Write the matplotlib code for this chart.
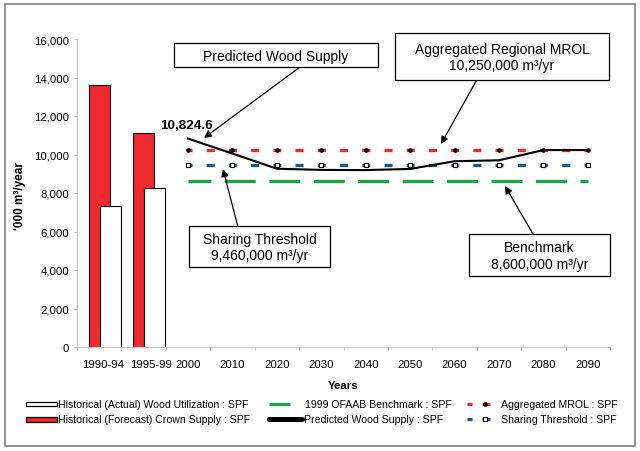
import matplotlib
matplotlib.use("Agg")
import matplotlib.pyplot as plt
from matplotlib.patches import Rectangle
from matplotlib.lines import Line2D
import numpy as np

plt.rcParams['font.family'] = ['Liberation Sans', 'DejaVu Sans']
plt.rcParams['lines.scale_dashes'] = False

# ---------------- data ----------------
categories = ['1990-94', '1995-99', '2000', '2010', '2020', '2030', '2040',
              '2050', '2060', '2070', '2080', '2090']
hist_years = ['1990-94', '1995-99']
crown_supply = [13630, 11120]          # Historical (Forecast) Crown Supply
actual_util = [7340, 8280]             # Historical (Actual) Wood Utilization
proj_years = ['2000', '2010', '2020', '2030', '2040', '2050', '2060',
              '2070', '2080', '2090']
predicted = [10824.6, 10050, 9260, 9200, 9190, 9250, 9650, 9700, 10230, 10230]
mrol = [10250] * 10
sharing = [9460] * 10
benchmark = [8600] * 10
yticks = [0, 2000, 4000, 6000, 8000, 10000, 12000, 14000, 16000]

W, H = 640, 452
fig = plt.figure(figsize=(W / 100, H / 100), dpi=100)


def fx(x):
    return x / W


def fy(y):
    return 1 - y / H


ax = fig.add_axes([fx(77), fy(348), fx(610) - fx(77), fy(40) - fy(348)])

idx = {c: i for i, c in enumerate(categories)}
xh = np.array([idx[c] for c in hist_years], dtype=float)
xp = np.array([idx[c] for c in proj_years], dtype=float)

red = '#ee2a2e'
blue = '#1f5b8a'
green = '#1fa34a'

bw = 0.47
ax.bar(xh, crown_supply, width=bw, color=red, edgecolor='black', linewidth=0.8, zorder=2)
ax.bar(xh + 0.245, actual_util, width=bw, color='white', edgecolor='black', linewidth=0.8, zorder=3)

ax.plot(xp, benchmark, color=green, lw=2.4, linestyle=(5.8, (22.3, 9.7)),
        solid_capstyle='butt', dash_capstyle='butt', zorder=3)
ax.plot(xp, sharing, color=blue, lw=2.4, linestyle=(2.9, (5.8, 10.2)),
        dash_capstyle='butt', marker='s', markersize=2.5, mfc='white', mec='black',
        mew=0.8, zorder=4)
ax.plot(xp, mrol, color=red, lw=2.4, linestyle=(2.9, (5.8, 10.2)),
        dash_capstyle='butt', marker='o', markersize=2.6, mfc='black', mec='black',
        mew=0.6, zorder=4)
ax.plot(xp, predicted, color='black', lw=1.5, zorder=5)

ax.set_xlim(-0.5, len(categories) - 0.5)
ax.set_ylim(0, 16000)
ax.set_yticks(yticks)
ax.set_yticklabels([f'{v:,}' for v in yticks])

tickpos = list(range(len(categories)))
tickpos[0] += 0.09
tickpos[1] += 0.16
ax.set_xticks(tickpos)
ax.set_xticklabels(categories)
ax.set_xticks(np.arange(-0.5, len(categories), 1.0), minor=True)
ax.tick_params(axis='x', which='major', length=0, pad=9, labelsize=8.2)
ax.tick_params(axis='x', which='minor', length=2.5, color='#c0c0c0', direction='out')
ax.tick_params(axis='y', which='major', length=2.2, color='#c0c0c0', pad=3.6, labelsize=8.2)

for s in ['top', 'right']:
    ax.spines[s].set_visible(False)
for s in ['left', 'bottom']:
    ax.spines[s].set_color('#c8c8c8')
    ax.spines[s].set_linewidth(0.9)

# data label
ax.annotate(f'{predicted[0]:,.1f}', xy=(xp[0], predicted[0]), xytext=(-1, 10),
            textcoords='offset points', ha='center', va='center',
            fontsize=9.7, fontweight='bold')

# axis titles
fig.text(fx(20), fy(196), "'000 m³/year", rotation=90, ha='center', va='center',
         fontsize=8.5, fontweight='bold')
fig.text(fx(343), fy(385.7), 'Years', ha='center', va='center',
         fontsize=8.2, fontweight='bold')

# callout boxes
boxes = [
    ((174, 44, 378, 68), 'Predicted Wood Supply', (300, 68), (204, 139)),
    ((395, 34, 609, 81), 'Aggregated Regional MROL\n10,250,000 m³/yr', (476.7, 81), (441, 145)),
    ((189, 227, 330, 268), 'Sharing Threshold\n9,460,000 m³/yr', (237.7, 227), (223, 170)),
    ((469, 235, 610, 277), 'Benchmark\n8,600,000 m³/yr', (533, 235), (505, 187)),
]
for (x0, y0, x1, y1), txt, start, tip in boxes:
    fig.add_artist(Rectangle((fx(x0), fy(y1)), fx(x1) - fx(x0), fy(y0) - fy(y1),
                             transform=fig.transFigure, facecolor='white',
                             edgecolor='black', linewidth=0.9, zorder=6))
    fig.text(fx((x0 + x1) / 2), fy((y0 + y1) / 2 + 0.5), txt, ha='center', va='center',
             fontsize=10, linespacing=1.2, zorder=7)
    ax.annotate('', xy=(tip[0], H - tip[1]), xycoords='figure pixels',
                xytext=(start[0], H - start[1]), textcoords='figure pixels',
                arrowprops=dict(arrowstyle='-|>', color='black', lw=0.9,
                                mutation_scale=11, shrinkA=0, shrinkB=0),
                zorder=8)

# legend (manual layout)
lfs = 7.6
r1, r2 = 405, 420.2
fig.add_artist(Rectangle((fx(26), fy(r1 + 2.3)), fx(57) - fx(26), fy(r1 - 2.3) - fy(r1 + 2.3),
                         transform=fig.transFigure, facecolor='white', edgecolor='black', lw=0.9))
fig.add_artist(Rectangle((fx(26), fy(r2 + 2.3)), fx(57) - fx(26), fy(r2 - 2.3) - fy(r2 + 2.3),
                         transform=fig.transFigure, facecolor=red, edgecolor='black', lw=0.9))
fig.text(fx(57.5), fy(r1), 'Historical (Actual) Wood Utilization : SPF', ha='left', va='center', fontsize=lfs)
fig.text(fx(57.5), fy(r2), 'Historical (Forecast) Crown Supply : SPF', ha='left', va='center', fontsize=lfs)

fig.add_artist(Line2D([fx(269), fx(290)], [fy(r1), fy(r1)], transform=fig.transFigure,
                      color=green, lw=2.3, solid_capstyle='butt'))
fig.add_artist(Line2D([fx(269), fx(302)], [fy(r2), fy(r2)], transform=fig.transFigure,
                      color='black', lw=3.6, solid_capstyle='round'))
fig.text(fx(305), fy(r1), '1999 OFAAB Benchmark : SPF', ha='left', va='center', fontsize=lfs)
fig.text(fx(303.5), fy(r2), 'Predicted Wood Supply : SPF', ha='left', va='center', fontsize=lfs)

for yy, col, mk, mfc in [(r1, red, 'o', 'black'), (r2, blue, 's', 'white')]:
    fig.add_artist(Line2D([fx(466.5), fx(472)], [fy(yy), fy(yy)], transform=fig.transFigure,
                          color=col, lw=2.3, solid_capstyle='butt'))
    fig.add_artist(Line2D([fx(481.5), fx(490)], [fy(yy), fy(yy)], transform=fig.transFigure,
                          color=col, lw=2.3, solid_capstyle='butt'))
    fig.add_artist(Line2D([fx(485)], [fy(yy)], transform=fig.transFigure, marker=mk,
                          markersize=2.6, mfc=mfc, mec='black', mew=0.8, lw=0))
fig.text(fx(501), fy(r1), 'Aggregated MROL : SPF', ha='left', va='center', fontsize=lfs)
fig.text(fx(501), fy(r2), 'Sharing Threshold : SPF', ha='left', va='center', fontsize=lfs)

# outer frame
fig.add_artist(Rectangle((fx(5), fy(447)), fx(635) - fx(5), fy(5) - fy(447),
                         transform=fig.transFigure, facecolor='none',
                         edgecolor='#7f7f7f', lw=1.2))

fig.savefig('out.png', dpi=100)
